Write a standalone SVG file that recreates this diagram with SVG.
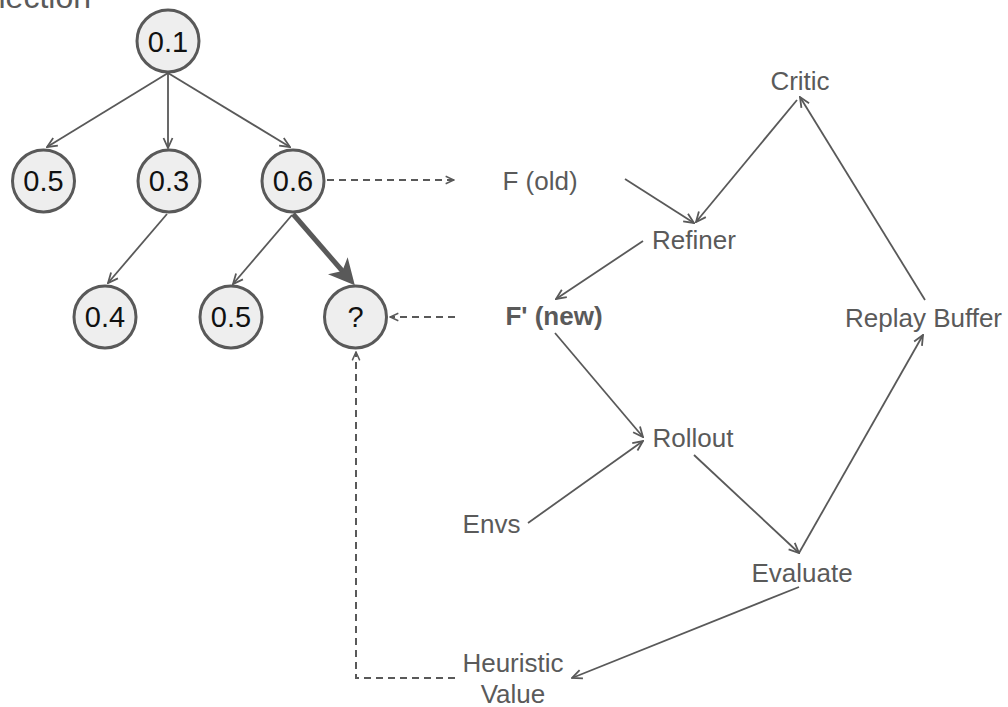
<svg xmlns="http://www.w3.org/2000/svg" width="1008" height="707" viewBox="0 0 1008 707">
  <defs>
    <marker id="open" viewBox="0 0 12 12" markerWidth="12" markerHeight="12" refX="11" refY="6" orient="auto" markerUnits="userSpaceOnUse">
      <path d="M1,1.5 L11,6 L1,10.5" fill="none" stroke="#595959" stroke-width="1.8"/>
    </marker>
    <marker id="openSmall" viewBox="0 0 12 12" markerWidth="10" markerHeight="10" refX="11" refY="6" orient="auto" markerUnits="userSpaceOnUse">
      <path d="M1,1.5 L11,6 L1,10.5" fill="none" stroke="#595959" stroke-width="1.8"/>
    </marker>
    <marker id="bold" viewBox="0 0 26 26" markerWidth="26" markerHeight="26" refX="11" refY="13" orient="auto" markerUnits="userSpaceOnUse">
      <path d="M0,0 L26,13 L0,26 L7,13 Z" fill="#595959"/>
    </marker>
  </defs>
  <style>
    .node circle { fill: #eeeeee; stroke: #595959; stroke-width: 3; }
    .node text { font-family: "Liberation Sans", Arial, sans-serif; font-size: 29px; fill: #111111; text-anchor: middle; }
    .label text { font-family: "Liberation Sans", Arial, sans-serif; font-size: 26px; fill: #5a5a5a; text-anchor: middle; }
    .edge { fill: none; stroke: #595959; stroke-width: 1.8; marker-end: url(#open); }
    .dash { fill: none; stroke: #595959; stroke-width: 2; stroke-dasharray: 7 5; marker-end: url(#openSmall); }
    .title { font-family: "Liberation Sans", Arial, sans-serif; font-size: 32px; fill: #5a5a5a; }
  </style>

  <rect width="1008" height="707" fill="#ffffff"/>

  <!-- heading, clipped at the top edge -->
  <text class="title" x="91" y="8" text-anchor="end">Selection</text>

  <!-- connectors -->
  <g id="connectors">
    <!-- search tree -->
    <line class="edge" x1="168" y1="73" x2="47" y2="147"/>
    <line class="edge" x1="168" y1="73" x2="168" y2="148"/>
    <line class="edge" x1="168" y1="73" x2="290" y2="147"/>
    <line class="edge" x1="167" y1="214" x2="108" y2="283"/>
    <line class="edge" x1="292" y1="215" x2="233" y2="284"/>
    <line x1="293" y1="214" x2="345" y2="274" stroke="#595959" stroke-width="5" marker-end="url(#bold)"/>
    <!-- tree to refinement loop -->
    <line class="dash" x1="327" y1="180" x2="454" y2="180"/>
    <line class="dash" x1="455" y1="317" x2="390" y2="317"/>
    <polyline class="dash" points="455,678 356,678 356,352"/>
    <!-- refinement loop -->
    <line class="edge" x1="625" y1="179" x2="694" y2="223"/>
    <line class="edge" x1="797" y1="100" x2="696" y2="222"/>
    <line class="edge" x1="643" y1="241" x2="556" y2="299"/>
    <line class="edge" x1="555" y1="333" x2="643" y2="437"/>
    <line class="edge" x1="528" y1="523" x2="643" y2="441"/>
    <line class="edge" x1="694" y1="455" x2="799" y2="553"/>
    <line class="edge" x1="799" y1="553" x2="923" y2="335"/>
    <line class="edge" x1="925" y1="300" x2="800" y2="97"/>
    <line class="edge" x1="799" y1="587" x2="572" y2="678"/>
  </g>

  <!-- tree nodes -->
  <g id="n-root" class="node"><circle cx="168" cy="41" r="31"/><text x="168" y="52">0.1</text></g>
  <g id="n-a" class="node"><circle cx="43.5" cy="181" r="31"/><text x="43.5" y="191">0.5</text></g>
  <g id="n-b" class="node"><circle cx="169" cy="181" r="31"/><text x="169" y="191">0.3</text></g>
  <g id="n-c" class="node"><circle cx="293" cy="181" r="31"/><text x="293" y="191">0.6</text></g>
  <g id="n-b1" class="node"><circle cx="105" cy="317" r="31"/><text x="105" y="327">0.4</text></g>
  <g id="n-c1" class="node"><circle cx="231" cy="317" r="31"/><text x="231" y="327">0.5</text></g>
  <g id="n-c2" class="node"><circle cx="355.5" cy="317" r="31"/><text x="355.5" y="327" font-size="27">?</text></g>

  <!-- loop labels -->
  <g id="f-old" class="label"><text x="540" y="190">F (old)</text></g>
  <g id="refiner" class="label"><text x="694" y="249">Refiner</text></g>
  <g id="critic" class="label"><text x="800" y="90">Critic</text></g>
  <g id="f-new" class="label"><text x="554" y="325" font-weight="bold">F' (new)</text></g>
  <g id="replay" class="label"><text x="923.5" y="327">Replay Buffer</text></g>
  <g id="rollout" class="label"><text x="693" y="447">Rollout</text></g>
  <g id="envs" class="label"><text x="491.5" y="533">Envs</text></g>
  <g id="evaluate" class="label"><text x="802" y="582">Evaluate</text></g>
  <g id="heuristic" class="label"><text x="513" y="672">Heuristic</text><text x="513" y="703">Value</text></g>
</svg>
